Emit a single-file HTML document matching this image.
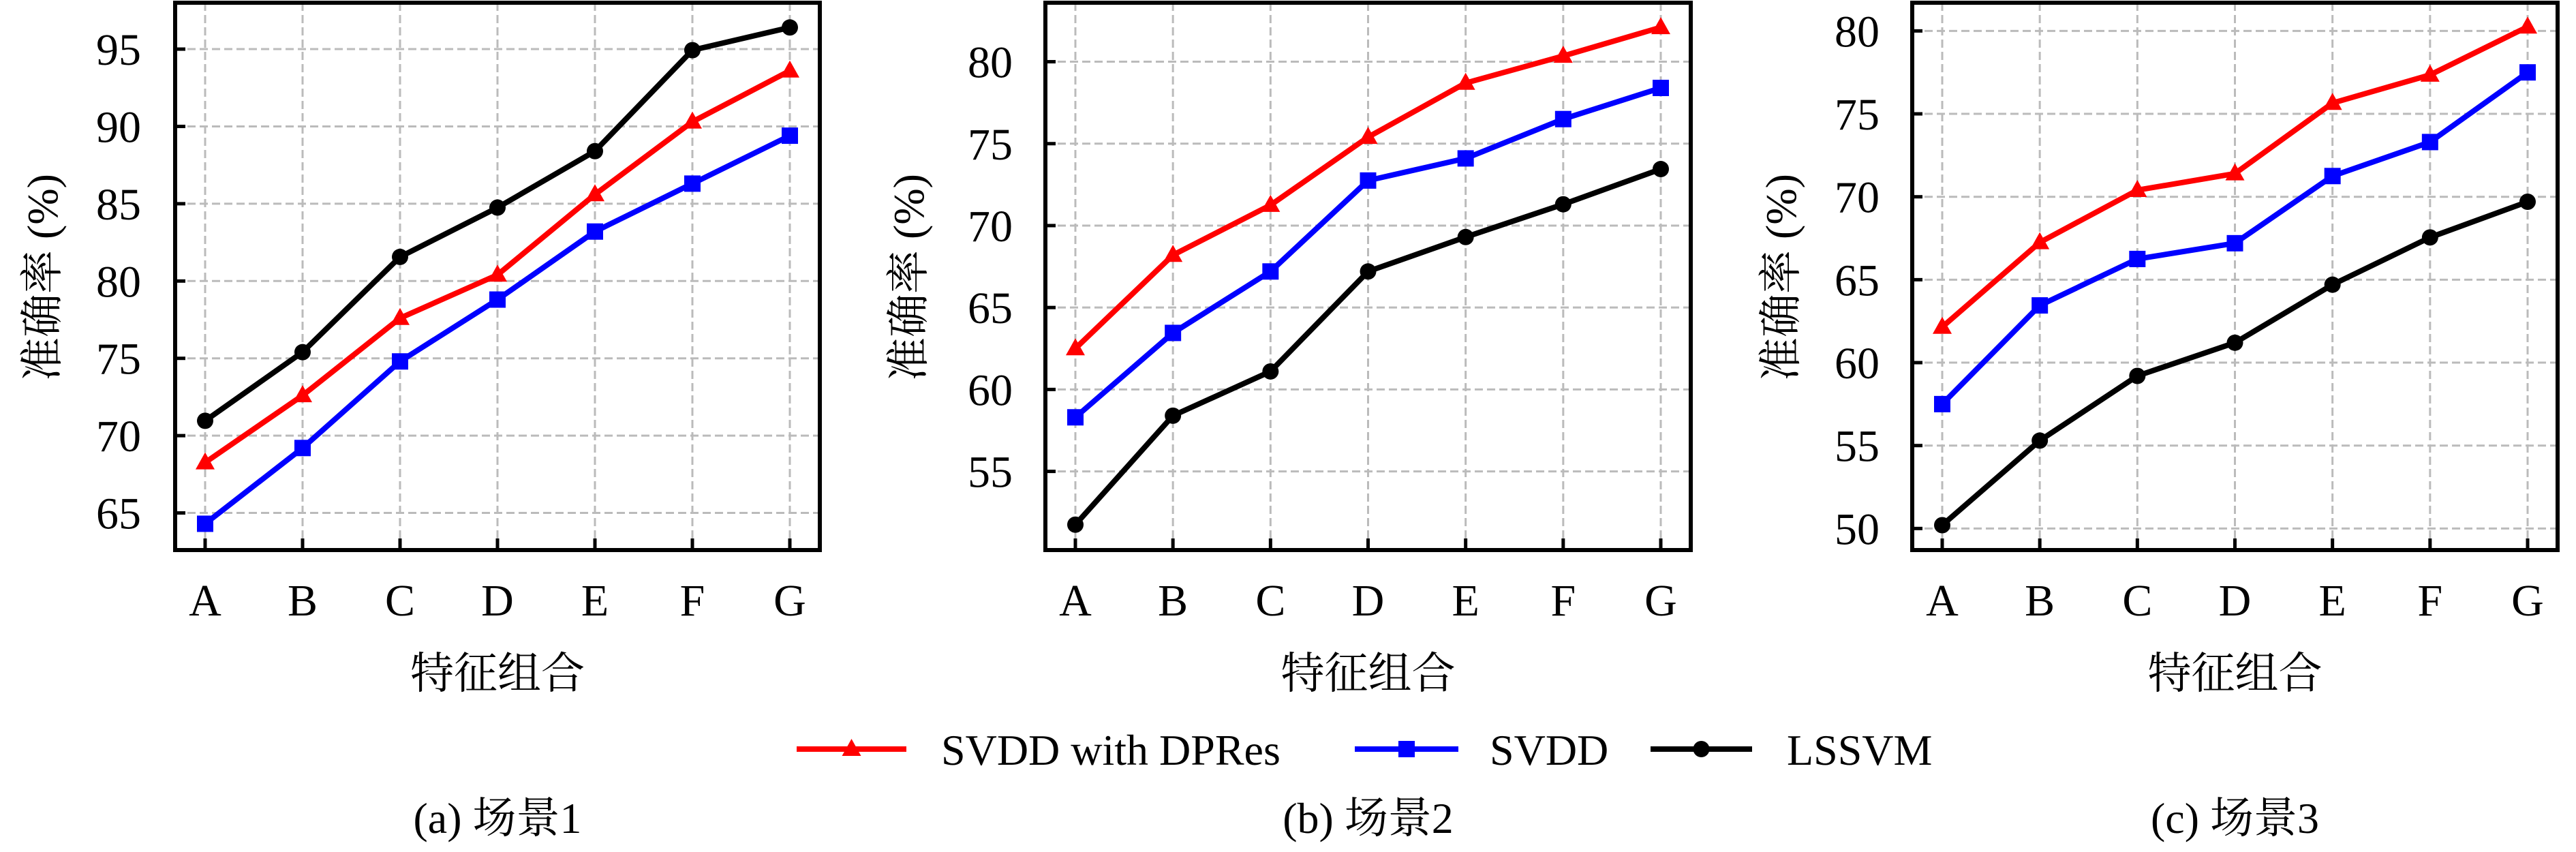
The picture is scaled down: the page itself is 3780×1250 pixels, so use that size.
<!DOCTYPE html>
<html><head><meta charset="utf-8">
<style>
html,body{margin:0;padding:0;background:#fff;}
svg{display:block;}
text{font-family:"Liberation Serif","Noto Serif CJK SC",serif;fill:#000;}
</style></head>
<body>
<svg id="fig" width="3780" height="1250" viewBox="0 0 3780 1250" xmlns="http://www.w3.org/2000/svg"></svg>
<script>
const categories = ['A','B','C','D','E','F','G'];
const p1Red   = [68.26,72.6,77.6,80.4,85.6,90.3,93.6];
const p1Blue  = [64.3,69.2,74.8,78.8,83.2,86.3,89.4];
const p1Black = [70.96,75.4,81.56,84.75,88.4,94.93,96.4];
const p2Red   = [62.5,68.2,71.25,75.4,78.7,80.35,82.1];
const p2Blue  = [58.3,63.45,67.2,72.75,74.1,76.5,78.4];
const p2Black = [51.75,58.4,61.1,67.2,69.3,71.3,73.45];
const p3Red   = [62.15,67.25,70.4,71.4,75.65,77.35,80.25];
const p3Blue  = [57.5,63.45,66.25,67.2,71.25,73.3,77.5];
const p3Black = [50.2,55.3,59.2,61.2,64.7,67.55,69.7];
const p1Ticks = [65,70,75,80,85,90,95];
const p2Ticks = [55,60,65,70,75,80];
const p3Ticks = [50,55,60,65,70,75,80];
const captions = ['(a) 场景1','(b) 场景2','(c) 场景3'];
const seriesNames = ['SVDD with DPRes','SVDD','LSSVM'];

const NS='http://www.w3.org/2000/svg';
const svg=document.getElementById('fig');
function mk(tag,attrs,parent){const e=document.createElementNS(NS,tag);for(const k in attrs)e.setAttribute(k,attrs[k]);(parent||svg).appendChild(e);return e;}

const panels=[
 {L:257,R:1203,ymin:62.6,ymax:98.0,ticks:p1Ticks,data:[p1Red,p1Blue,p1Black],ylx:62,tx:207},
 {L:1534,R:2481,ymin:50.2,ymax:83.6,ticks:p2Ticks,data:[p2Red,p2Blue,p2Black],ylx:1333,tx:1486},
 {L:2806,R:3753,ymin:48.7,ymax:81.7,ticks:p3Ticks,data:[p3Red,p3Blue,p3Black],ylx:2613,tx:2758}
];
const T=4,B=807;
const colors=['#ff0000','#0000ff','#000000'];
const markerTypes=['tri','sq','circ'];

function marker(g,type,x,y,c){
  let m;
  if(type==='tri') m=mk('polygon',{points:`${x},${y-15} ${x-14},${y+10} ${x+14},${y+10}`,fill:c},g);
  else if(type==='sq') m=mk('rect',{x:x-12,y:y-12,width:24,height:24,fill:c},g);
  else m=mk('circle',{cx:x,cy:y,r:12,fill:c},g);
  
  
}

panels.forEach((p,pi)=>{
  const g=mk('g',{});
  
  
  const x0=p.L+44, dx=(p.R-44-x0)/(categories.length-1);
  const xs=i=>x0+i*dx;
  const ys=v=>B-(v-p.ymin)/(p.ymax-p.ymin)*(B-T);
  // grid
  categories.forEach((c,i)=>{
    const l=mk('line',{x1:xs(i),x2:xs(i),y1:T,y2:B,stroke:'#bbbbbb','stroke-width':3,'stroke-dasharray':'12,6'},g);
    
    
    const tk=mk('line',{x1:xs(i),x2:xs(i),y1:B,y2:B-17,stroke:'#000','stroke-width':5},g);
    
    
    const t=mk('text',{x:xs(i),y:903,'text-anchor':'middle','font-size':66},g);
    t.textContent=c;
    
    
  });
  p.ticks.forEach(v=>{
    const l=mk('line',{x1:p.L,x2:p.R,y1:ys(v),y2:ys(v),stroke:'#bbbbbb','stroke-width':3,'stroke-dasharray':'12,6'},g);
    
    
    const tk=mk('line',{x1:p.L,x2:p.L+15,y1:ys(v),y2:ys(v),stroke:'#000','stroke-width':5},g);
    
    
    const t=mk('text',{x:p.tx,y:ys(v)+23,'text-anchor':'end','font-size':66},g);
    t.textContent=v;
    
    
  });
  // series
  p.data.forEach((arr,si)=>{
    const pts=arr.map((v,i)=>xs(i)+','+ys(v)).join(' ');
    const pl=mk('polyline',{points:pts,fill:'none',stroke:colors[si],'stroke-width':8,'stroke-linejoin':'round'},g);
    
    
    arr.forEach((v,i)=>marker(g,markerTypes[si],xs(i),ys(v),colors[si]));
  });
  const box=mk('rect',{x:p.L,y:T,width:p.R-p.L,height:B-T,fill:'none',stroke:'#000','stroke-width':6},g);
  
  
  const cx=(p.L+p.R)/2;
  const yl=mk('text',{x:p.ylx,y:407,'text-anchor':'middle','font-size':64,transform:`rotate(-90 ${p.ylx} 407)`,dy:22},g);
  yl.textContent='准确率 (%)';
  
  
  const xl=mk('text',{x:cx,y:1010,'text-anchor':'middle','font-size':64},g);
  xl.textContent='特征组合';
  
  
  const cap=mk('text',{x:cx,y:1222,'text-anchor':'middle','font-size':64},g);
  cap.textContent=captions[pi];
  
  
});

// legend
const lg=mk('g',{});


const legItems=[{x1:1169,x2:1330,tx:1381},{x1:1988,x2:2140,tx:2186},{x1:2422,x2:2571,tx:2622}];
const LY=1099;
legItems.forEach((it,i)=>{
  const e=mk('g',{},lg);
  
  
  mk('line',{x1:it.x1,x2:it.x2,y1:LY,y2:LY,stroke:colors[i],'stroke-width':8},e);
  marker(e,markerTypes[i],(it.x1+it.x2)/2,LY,colors[i]);
  const t=mk('text',{x:it.tx,y:LY+23,'font-size':64},e);
  t.textContent=seriesNames[i];
  
  
});
</script>
</body></html>
